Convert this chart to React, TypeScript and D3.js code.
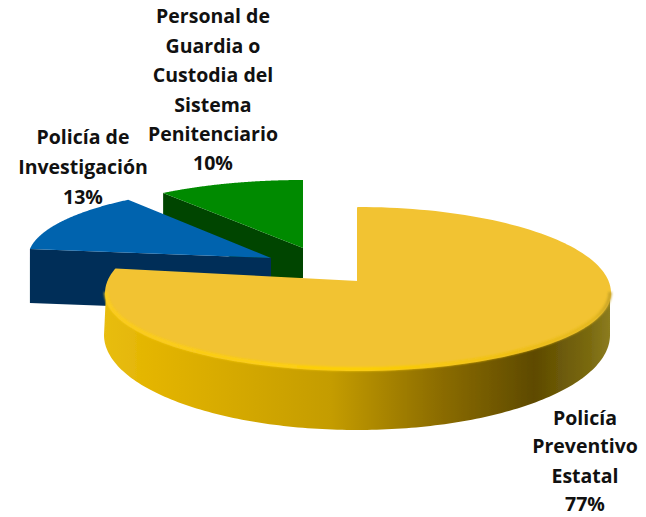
import React from "react";
import * as d3 from "d3";

const categories = ["Policía Preventivo Estatal", "Policía de Investigación", "Personal de Guardia o Custodia del Sistema Penitenciario"];
const values = [77, 13, 10];
const topColors = ["#f2c333", "#0563ae", "#068a06"];
const wallColors = ["url(#wallY)", "#012f58", "#034503"];
const labelLines = [
  ["Policía", "Preventivo", "Estatal", "77%"],
  ["Policía de", "Investigación", "13%"],
  ["Personal de", "Guardia o", "Custodia del", "Sistema", "Penitenciario", "10%"],
];
const labelX = [585, 83, 213];
const labelY = [[425, 453, 483, 511], [144, 174, 204], [23, 53, 82, 112, 141, 170]];
// Perspective layout of each exploded slice: apex, ellipse centre, radii, wall depth
const geoms = [
  { ax: 358, ay: 282, cx: 358, cy: 293, rx: 252, back: 85, front: 77, depth: 60, endNudge: 0.155 },
  { ax: 271, ay: 258, cx: 271, cy: 258, rx: 243, back: 72, front: 80, depth: 54, endNudge: 0 },
  { ax: 303, ay: 248, cx: 303, cy: 248, rx: 238, back: 68, front: 80, depth: 30, endNudge: 0 },
];
const yellowBase = { cx: 357, cy: 335, rx: 253, back: 95, front: 95 };

const pieGen = d3.pie<number>().sort(null).startAngle(0).endAngle(2 * Math.PI);
const lineGen = d3.line<[number, number]>();

type Ell = { cx: number; cy: number; rx: number; back: number; front: number };

export default function App() {
  const arcs = pieGen(values);
  const pt = (g: Ell, a: number): [number, number] => {
    const c = Math.cos(a);
    return [g.cx + g.rx * Math.sin(a), g.cy - (c > 0 ? g.back : g.front) * c];
  };
  const sample = (g: Ell, a0: number, a1: number) =>
    d3.range(0, 161).map((i) => pt(g, a0 + ((a1 - a0) * i) / 160));

  const topPath = (i: number) => {
    const g = geoms[i];
    const a = arcs[i];
    return lineGen([[g.ax, g.ay], ...sample(g, a.startAngle, a.endAngle + g.endNudge)]) + "Z";
  };
  const wallPath = (i: number) => {
    const g = geoms[i];
    const a = arcs[i];
    if (i === 0) {
      const a0 = Math.PI * 0.5;
      const a1 = Math.PI * 1.5;
      return lineGen([...sample(g, a0, a1), ...sample(yellowBase, a1, a0)]) + "Z";
    }
    const e: [number, number] = pt(g, a.startAngle);
    if (i === 2) {
      const inner = geoms[1].ax;
      return (
        lineGen([
          [g.ax, g.ay],
          e,
          [e[0], e[1] + g.depth],
          [inner, g.ay + g.depth],
          [g.ax, g.ay + g.depth],
        ]) + "Z"
      );
    }
    return lineGen([[g.ax, g.ay], e, [e[0], e[1] + g.depth], [g.ax, g.ay + g.depth]]) + "Z";
  };
  const bevel = lineGen(sample({ ...geoms[0], cy: geoms[0].cy - 1 }, Math.PI * 0.5, Math.PI * 1.5)) as string;
  const order = [2, 1, 0];
  return (
    <svg width={646} height={517} style={{ position: "absolute", left: 0, top: 0, background: "#fff" }}>
      <defs>
        <linearGradient id="wallY" gradientUnits="userSpaceOnUse" x1={104} x2={610} y1={0} y2={0}>
          <stop offset="0" stopColor="#e8bd12" />
          <stop offset="0.1" stopColor="#e3b400" />
          <stop offset="0.45" stopColor="#c49c00" />
          <stop offset="0.65" stopColor="#8f6f00" />
          <stop offset="0.85" stopColor="#5e4a00" />
          <stop offset="0.96" stopColor="#7a6a10" />
          <stop offset="1" stopColor="#8c7c20" />
        </linearGradient>
        <linearGradient id="bevelY" gradientUnits="userSpaceOnUse" x1={104} x2={610} y1={0} y2={0}>
          <stop offset="0" stopColor="#fbcd1c" />
          <stop offset="0.5" stopColor="#ffd200" />
          <stop offset="0.8" stopColor="#f0c010" />
          <stop offset="0.97" stopColor="#e4b820" />
          <stop offset="1" stopColor="#c8a428" />
        </linearGradient>
        <filter id="soft" x="-5%" y="-5%" width="110%" height="110%">
          <feGaussianBlur stdDeviation="0.9" />
        </filter>
        <filter id="soft2" x="-5%" y="-5%" width="110%" height="110%">
          <feGaussianBlur stdDeviation="0.5" />
        </filter>
      </defs>
      {order.map((i) => (
        <g key={categories[i]} filter="url(#soft2)">
          <path d={wallPath(i)} fill={wallColors[i]} />
          <path
            d={topPath(i)}
            fill={topColors[i]}
            stroke={i === 0 ? topColors[0] : "none"}
            strokeWidth={i === 0 ? 2 : 0}
            strokeLinejoin="round"
          />
        </g>
      ))}
      <path d={bevel} fill="none" stroke="url(#bevelY)" strokeWidth={3.5} filter="url(#soft)" />
      {labelLines.map((lines, i) => (
        <text
          key={categories[i]}
          textAnchor="middle"
          fontFamily="'Open Sans', sans-serif"
          fontWeight={700}
          fontSize={19.5}
          fill="#111"
        >
          {lines.map((l, j) => (
            <tspan key={j} x={labelX[i]} y={labelY[i][j]}>
              {l}
            </tspan>
          ))}
        </text>
      ))}
    </svg>
  );
}
